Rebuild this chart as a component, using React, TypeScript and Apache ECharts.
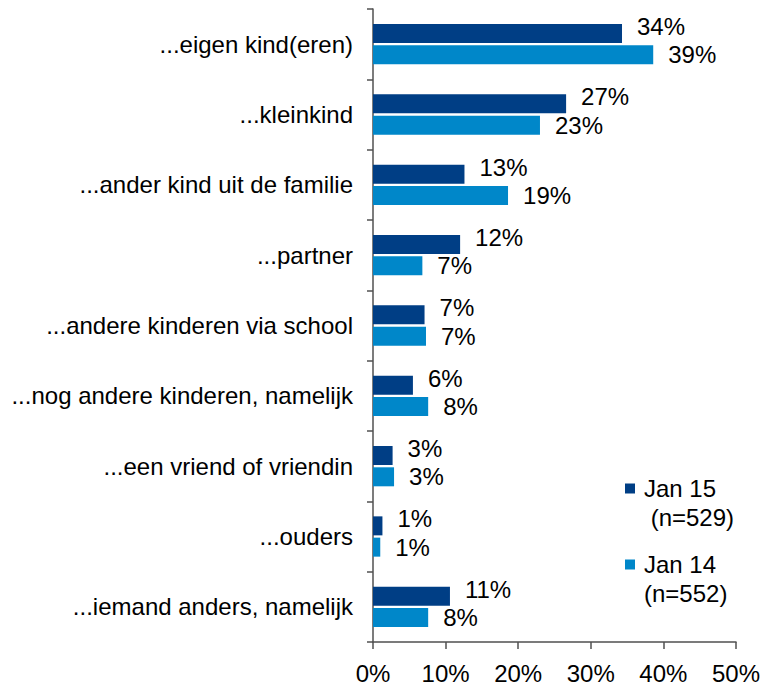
import React, { useEffect, useRef } from "react";
import * as echarts from "echarts";

const categories = [
  "...eigen kind(eren)",
  "...kleinkind",
  "...ander kind uit de familie",
  "...partner",
  "...andere kinderen via school",
  "...nog andere kinderen, namelijk",
  "...een vriend of vriendin",
  "...ouders",
  "...iemand anders, namelijk",
];
const jan15Name = "Jan 15\n (n=529)";
const jan14Name = "Jan 14\n(n=552)";
const jan15Values = [34.3, 26.6, 12.6, 12.0, 7.1, 5.5, 2.7, 1.3, 10.6];
const jan14Values = [38.6, 23.0, 18.6, 6.8, 7.3, 7.6, 2.9, 1.0, 7.6];
const xTicks = { min: 0, max: 50, interval: 10 };

const FONT = "'Liberation Sans', Arial, sans-serif";
const DARK = "#003E85";
const LIGHT = "#0087C9";
const AXIS = "#505050";

export default function App() {
  const ref = useRef<HTMLDivElement>(null);
  useEffect(() => {
    document.body.style.margin = "0";
    if (!ref.current) return;
    const chart = echarts.init(ref.current, undefined, { renderer: "svg" });
    const fs = 24;
    const legendBase = {
      orient: "vertical",
      left: 620,
      itemWidth: 18,
      itemHeight: 10,
      icon: "path://M0,0L10,0L10,10L0,10Z",
      formatter: (name: string) => "\n" + name,
      textStyle: {
        fontFamily: FONT,
        fontSize: fs,
        color: "#000",
        lineHeight: 29,
      },
      itemStyle: { borderWidth: 0 },
    };
    chart.setOption({
      animation: false,
      textStyle: { fontFamily: FONT },
      grid: { left: 373, right: 27, top: 9, bottom: 42, containLabel: false },
      legend: [
        { ...legendBase, top: 440, data: [jan15Name] },
        { ...legendBase, top: 516, data: [jan14Name] },
      ],
      xAxis: {
        type: "value",
        min: xTicks.min,
        max: xTicks.max,
        interval: xTicks.interval,
        axisLine: { show: true, lineStyle: { color: AXIS, width: 1.5 } },
        axisTick: { show: true, length: 7, lineStyle: { color: AXIS, width: 1.5 } },
        splitLine: { show: false },
        axisLabel: {
          formatter: "{value}%",
          fontSize: fs,
          color: "#000",
          fontFamily: FONT,
          margin: 19,
        },
      },
      yAxis: {
        type: "category",
        inverse: true,
        data: categories,
        axisLine: { show: true, lineStyle: { color: AXIS, width: 1.5 } },
        axisTick: { show: true, length: 6, lineStyle: { color: AXIS, width: 1.5 } },
        axisLabel: {
          fontSize: fs,
          color: "#000",
          fontFamily: FONT,
          margin: 20,
        },
      },
      series: [
        {
          name: jan15Name,
          type: "bar",
          data: jan15Values,
          barWidth: 19,
          barGap: "12%",
          itemStyle: { color: DARK },
          label: {
            show: true,
            position: "right",
            distance: 15,
            offset: [0, -7],
            formatter: (p: any) => Math.round(p.value) + "%",
            fontSize: fs,
            color: "#000",
            fontFamily: FONT,
          },
        },
        {
          name: jan14Name,
          type: "bar",
          data: jan14Values,
          barWidth: 19,
          barGap: "12%",
          itemStyle: { color: LIGHT },
          label: {
            show: true,
            position: "right",
            distance: 15,
            formatter: (p: any) => Math.round(p.value) + "%",
            fontSize: fs,
            color: "#000",
            fontFamily: FONT,
          },
        },
      ],
    });
    return () => chart.dispose();
  }, []);
  return <div ref={ref} style={{ width: 763, height: 685 }} />;
}
